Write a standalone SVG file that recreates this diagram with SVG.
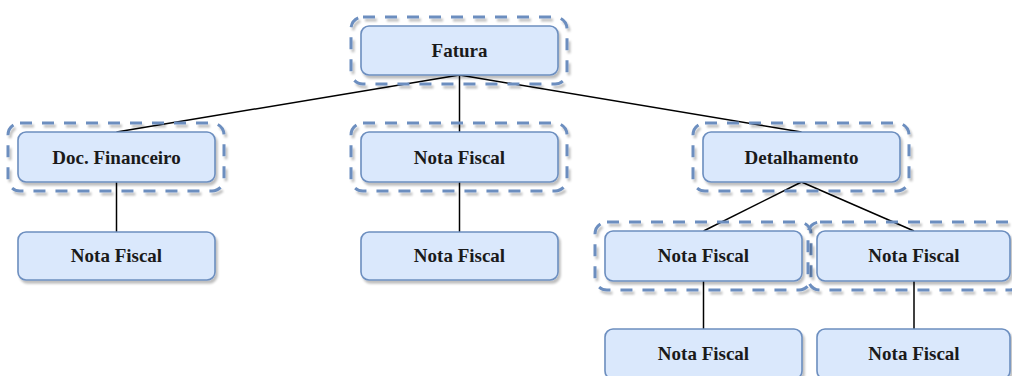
<svg xmlns="http://www.w3.org/2000/svg" width="1012" height="376" viewBox="0 0 1012 376">
<defs>
<filter id="sh" x="-10%" y="-20%" width="125%" height="150%">
<feGaussianBlur in="SourceAlpha" stdDeviation="0.8" result="b"/>
<feOffset in="b" dx="2" dy="3" result="o"/>
<feFlood flood-color="#000" flood-opacity="0.25"/>
<feComposite in2="o" operator="in" result="s"/>
<feMerge><feMergeNode in="s"/><feMergeNode in="SourceGraphic"/></feMerge>
</filter>
</defs>
<style>
.box{fill:#dae8fc;stroke:#6c8ebf;stroke-width:1.6;filter:url(#sh)}
.grp{fill:none;stroke:#6c8ebf;stroke-width:3;stroke-dasharray:12 10;filter:url(#sh)}
.lbl{font-family:"Liberation Serif","Times New Roman",serif;font-weight:bold;font-size:19px;fill:#1a1a1a;text-anchor:middle}
.edge{stroke:#000;stroke-width:1.5;fill:none}
</style>
<g id="connectors">
<line class="edge" x1="459.5" y1="75" x2="116.5" y2="132"/>
<line class="edge" x1="459.5" y1="75" x2="459.5" y2="132"/>
<line class="edge" x1="459.5" y1="75" x2="801.5" y2="132"/>
<line class="edge" x1="116.5" y1="182" x2="116.5" y2="232"/>
<line class="edge" x1="459.5" y1="182" x2="459.5" y2="232"/>
<line class="edge" x1="801.5" y1="182" x2="703.5" y2="231"/>
<line class="edge" x1="801.5" y1="182" x2="914" y2="231"/>
<line class="edge" x1="703.5" y1="281" x2="703.5" y2="329"/>
<line class="edge" x1="914" y1="281" x2="914" y2="329"/>
</g>
<g id="fatura">
<rect class="grp" x="351" y="17" width="216" height="67" rx="12"/>
<rect class="box" x="361" y="26" width="197" height="49" rx="8"/>
<text class="lbl" x="459.5" y="57">Fatura</text>
</g>
<g id="doc-financeiro">
<rect class="grp" x="8" y="123" width="216" height="68" rx="12"/>
<rect class="box" x="18" y="132" width="197" height="50" rx="8"/>
<text class="lbl" x="116.5" y="163.5">Doc. Financeiro</text>
</g>
<g id="nota-fiscal-mid">
<rect class="grp" x="351" y="123" width="216" height="68" rx="12"/>
<rect class="box" x="361" y="132" width="197" height="50" rx="8"/>
<text class="lbl" x="459.5" y="163.5">Nota Fiscal</text>
</g>
<g id="detalhamento">
<rect class="grp" x="693" y="123" width="216" height="68" rx="12"/>
<rect class="box" x="703" y="132" width="197" height="50" rx="8"/>
<text class="lbl" x="801.5" y="163.5">Detalhamento</text>
</g>
<g id="nf-doc-child">
<rect class="box" x="18" y="232" width="197" height="48" rx="8"/>
<text class="lbl" x="116.5" y="262">Nota Fiscal</text>
</g>
<g id="nf-mid-child">
<rect class="box" x="361" y="232" width="197" height="48" rx="8"/>
<text class="lbl" x="459.5" y="262">Nota Fiscal</text>
</g>
<g id="nf-det-left">
<rect class="grp" x="595" y="222" width="216" height="68" rx="12"/>
<rect class="box" x="605" y="231" width="197" height="50" rx="8"/>
<text class="lbl" x="703.5" y="262">Nota Fiscal</text>
</g>
<g id="nf-det-right">
<rect class="grp" x="808" y="222" width="214" height="68" rx="12"/>
<rect class="box" x="817" y="231" width="193" height="50" rx="8"/>
<text class="lbl" x="914" y="262">Nota Fiscal</text>
</g>
<g id="nf-left-child">
<rect class="box" x="605" y="329" width="197" height="50" rx="8"/>
<text class="lbl" x="703.5" y="359.5">Nota Fiscal</text>
</g>
<g id="nf-right-child">
<rect class="box" x="817" y="329" width="193" height="50" rx="8"/>
<text class="lbl" x="914" y="359.5">Nota Fiscal</text>
</g>
</svg>
